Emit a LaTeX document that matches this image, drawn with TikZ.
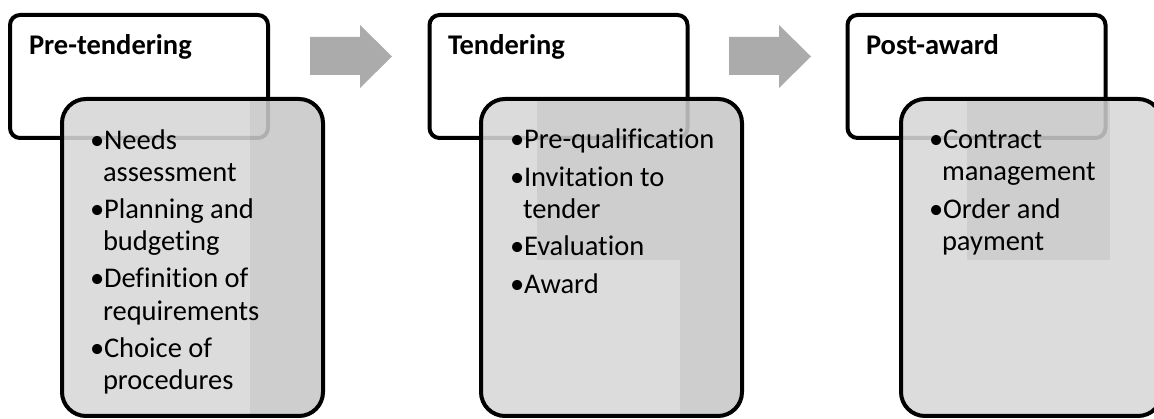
\documentclass[tikz,border=0pt]{standalone}
\usepackage{fontspec}
\setmainfont{Carlito}[Ligatures=NoCommon]
\usetikzlibrary{shapes}

\definecolor{boxgrey}{HTML}{D7D7D7}
\definecolor{arrowgrey}{HTML}{ABABAB}
\newcommand{\bitem}{\strut\makebox[14pt][l]{•}}
\newcommand{\bcont}{\hspace*{13pt}}

\begin{document}
\begin{tikzpicture}[x=1pt, y=-1pt, line width=4pt]
\tikzstyle{titlebox}=[rectangle, draw=black, fill=white, rounded corners=10pt, minimum width=258pt, minimum height=123pt, inner sep=0pt]
\tikzstyle{listbox}=[rectangle, draw=black, fill=boxgrey, fill opacity=0.88, rounded corners=24pt, minimum width=261pt, minimum height=317pt, inner sep=0pt]
\tikzstyle{headtext}=[anchor=base west, inner sep=0pt, font=\bfseries\fontsize{28.5}{32}\selectfont]
\tikzstyle{listtext}=[anchor=north west, inner sep=0pt, align=left, font=\fontsize{28.5}{32}\selectfont]
\tikzstyle{shadestyle}=[fill=black, fill opacity=0.06]
\tikzstyle{arrowstyle}=[fill=arrowgrey]

\useasboundingbox (0,0) rectangle (1154,419);

% pre-tendering
\node[titlebox] (G0box) at (139,76.5) {};
\node[listbox] (G0list) at (192.5,257.5) {};
\begin{scope}
\clip[rounded corners=24pt] (62,99) rectangle (323,416);
\fill[shadestyle] (250,90) rectangle (330,420);
\end{scope}
\node[headtext] (G0head) at (27,55) {Pre-tendering};
\node[listtext] (G0text) at (88,124.6) {\bitem Needs\\ \bcont assessment\\[5.5pt]
  \bitem Planning and\\ \bcont budgeting\\[5.5pt]
  \bitem Definition of\\ \bcont requirements\\[5.5pt]
  \bitem Choice of\\ \bcont procedures};

\fill[arrowstyle] (310,37) -- (360,37) -- (360,25) -- (392,56.5) -- (360,88) -- (360,75) -- (310,75) -- cycle;

% tendering
\node[titlebox] (G1box) at (558.5,76.5) {};
\node[listbox] (G1list) at (611.5,257.5) {};
\begin{scope}
\clip[rounded corners=24pt] (481,99) rectangle (742,416);
\fill[shadestyle] (537,90) rectangle (750,260);
\fill[shadestyle] (680,260) rectangle (750,420);
\end{scope}
\node[headtext] (G1head) at (446,55) {Tendering};
\node[listtext] (G1text) at (508,124.6) {\bitem Pre-qualification\\[5.5pt]
  \bitem Invitation to\\ \bcont tender\\[5.5pt]
  \bitem Evaluation\\[5.5pt]
  \bitem Award};

\fill[arrowstyle] (729,37) -- (779,37) -- (779,25) -- (811,56.5) -- (779,88) -- (779,75) -- (729,75) -- cycle;

% post-award
\node[titlebox] (G2box) at (976.5,76.5) {};
\node[listbox] (G2list) at (1031.5,257.5) {};
\begin{scope}
\clip[rounded corners=24pt] (901,99) rectangle (1162,416);
\fill[shadestyle] (967,90) rectangle (1110,260);
\end{scope}
\node[headtext] (G2head) at (864,55) {Post-award};
\node[listtext] (G2text) at (927,124.6) {\bitem Contract\\ \bcont management\\[5.5pt]
  \bitem Order and\\ \bcont payment};
\end{tikzpicture}
\end{document}
